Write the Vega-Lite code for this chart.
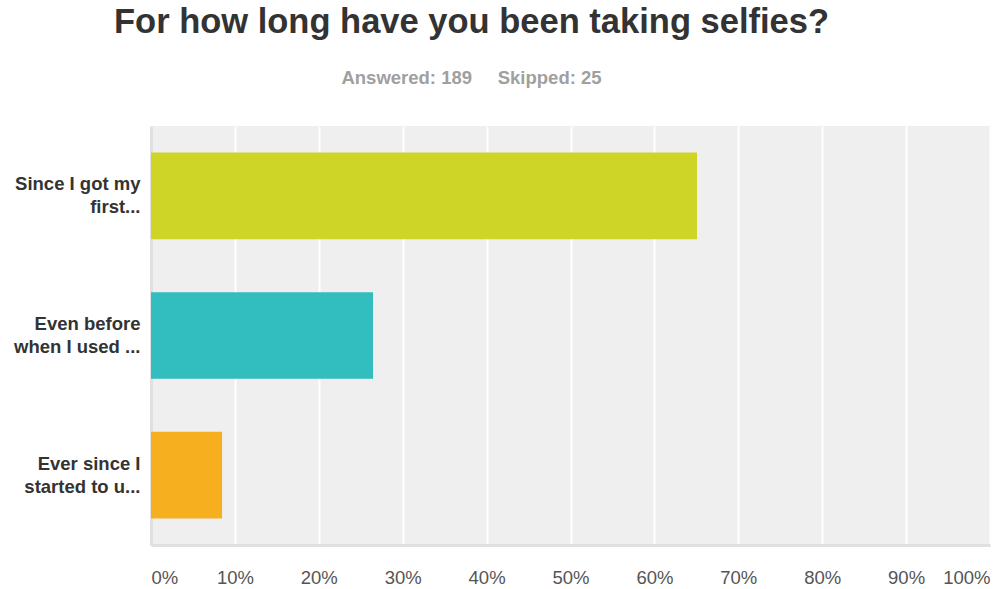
{
  "$schema": "https://vega.github.io/schema/vega-lite/v6.json",
  "autosize": "none",
  "width": 839,
  "height": 419,
  "padding": {"left": 151, "top": 126, "right": 11, "bottom": 44},
  "background": "white",
  "title": {
    "text": "For how long have you been taking selfies?",
    "subtitle": "Answered: 189\u00a0\u00a0\u00a0\u00a0\u00a0Skipped: 25",
    "anchor": "middle",
    "dx": -99,
    "offset": 38,
    "font": "Liberation Sans",
    "fontSize": 34.5,
    "fontWeight": "bold",
    "color": "#333333",
    "subtitleFont": "Liberation Sans",
    "subtitleFontSize": 18.5,
    "subtitleFontWeight": "bold",
    "subtitleColor": "#a0a0a0",
    "subtitlePadding": 28
  },
  "data": {
    "values": [
      {"answer": "Since I got my first...", "pct": 0.6508},
      {"answer": "Even before when I used ...", "pct": 0.2646},
      {"answer": "Ever since I started to u...", "pct": 0.0847}
    ]
  },
  "mark": {"type": "bar"},
  "encoding": {
    "y": {
      "field": "answer",
      "type": "nominal",
      "sort": null,
      "scale": {"paddingInner": 0.38, "paddingOuter": 0.19},
      "axis": {
        "title": null,
        "ticks": false,
        "domain": true,
        "domainColor": "#e0e0e0",
        "domainWidth": 3,
        "labelFont": "Liberation Sans",
        "labelFontSize": 18.5,
        "labelFontWeight": "bold",
        "labelColor": "#333333",
        "labelPadding": 11,
        "labelLineHeight": 23,
        "labelOffset": -11.5,
        "labelLimit": 200,
        "labelExpr": "datum.value == 'Since I got my first...' ? ['Since I got my', 'first...'] : datum.value == 'Even before when I used ...' ? ['Even before', 'when I used ...'] : ['Ever since I', 'started to u...']"
      }
    },
    "x": {
      "field": "pct",
      "type": "quantitative",
      "scale": {"domain": [0, 1], "nice": false},
      "axis": {
        "title": null,
        "format": ".0%",
        "values": [0, 0.1, 0.2, 0.3, 0.4, 0.5, 0.6, 0.7, 0.8, 0.9, 1],
        "ticks": false,
        "domain": true,
        "domainColor": "#e0e0e0",
        "domainWidth": 3,
        "grid": true,
        "gridColor": "#ffffff",
        "gridWidth": 2,
        "gridOpacity": 1,
        "labelFlush": true,
        "labelFont": "Liberation Sans",
        "labelFontSize": 18.5,
        "labelColor": "#555555",
        "labelPadding": 23
      }
    },
    "color": {
      "field": "answer",
      "type": "nominal",
      "sort": null,
      "scale": {"range": ["#cfd527", "#32bdbf", "#f6af1f"]},
      "legend": null
    }
  },
  "config": {
    "view": {"fill": "#efefef", "stroke": null}
  }
}
